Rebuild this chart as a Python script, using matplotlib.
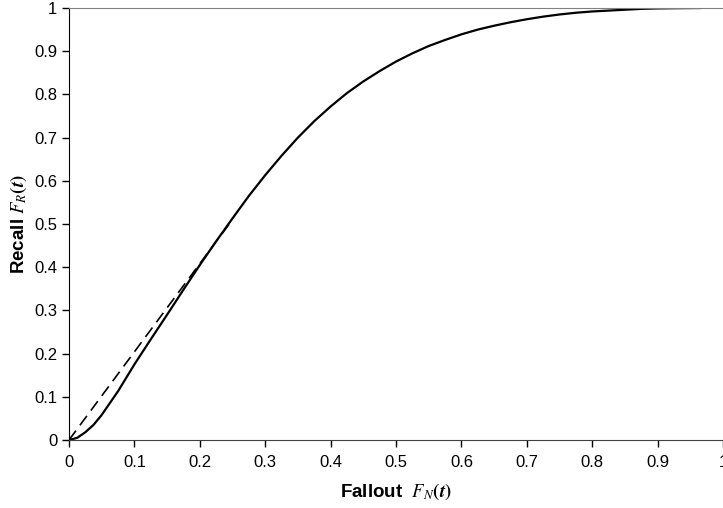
import matplotlib.pyplot as plt

plt.rcParams['font.family'] = ['Liberation Sans', 'DejaVu Sans']
plt.rcParams['mathtext.fontset'] = 'stix'

# ROC-like curve
fallout = [0.0, 0.0125, 0.025, 0.0375, 0.05, 0.075, 0.1, 0.125, 0.15, 0.175, 0.2,
           0.225, 0.25, 0.275, 0.3, 0.325, 0.35, 0.375, 0.4, 0.425, 0.45, 0.475, 0.5,
           0.525, 0.55, 0.575, 0.6, 0.625, 0.65, 0.675, 0.7, 0.725, 0.75, 0.775, 0.8,
           0.825, 0.85, 0.875, 0.9, 0.925, 0.966]
recall = [0.0, 0.005, 0.018, 0.035, 0.058, 0.113, 0.175, 0.233, 0.29, 0.348, 0.405,
          0.46, 0.513, 0.565, 0.613, 0.658, 0.70, 0.738, 0.772, 0.803, 0.83, 0.854, 0.876,
          0.895, 0.912, 0.926, 0.939, 0.950, 0.959, 0.967, 0.974, 0.980, 0.985, 0.989, 0.992,
          0.994, 0.996, 0.998, 0.999, 0.9995, 1.0]

# dashed tangent line
tangent_x = [0.0, 0.245]
tangent_y = [0.0, 0.5]

ticks = [0, 0.1, 0.2, 0.3, 0.4, 0.5, 0.6, 0.7, 0.8, 0.9, 1]
tick_labels = ['0', '0.1', '0.2', '0.3', '0.4', '0.5', '0.6', '0.7', '0.8', '0.9', '1']

fig = plt.figure(figsize=(7.23, 5.08), dpi=100)
ax = fig.add_axes([69 / 723, 68 / 508, 654 / 723, 432 / 508])

ax.plot(fallout, recall, color='black', linewidth=1.6, solid_joinstyle='round')
ax.plot(tangent_x, tangent_y, color='black', linewidth=1.2, dashes=(7, 4))

ax.set_xlim(0, 1)
ax.set_ylim(0, 1)
ax.set_xticks(ticks)
ax.set_xticklabels(tick_labels)
ax.set_yticks(ticks)
ax.set_yticklabels(tick_labels)
ax.tick_params(direction='out', length=5, width=1, labelsize=12, colors='black')
ax.tick_params(axis='x', pad=6)

ax.spines['right'].set_visible(False)
ax.spines['top'].set_color('#808080')
ax.spines['left'].set_color('black')
ax.spines['bottom'].set_color('#404040')

ax.set_xlabel(r'Fallout  $\boldsymbol{F_N(t)}$', fontsize=13.5, fontweight='bold', labelpad=8)
ax.set_ylabel(r'Recall $\boldsymbol{F_R(t)}$', fontsize=13.5, fontweight='bold', labelpad=4)

fig.savefig('out.png', dpi=100)
